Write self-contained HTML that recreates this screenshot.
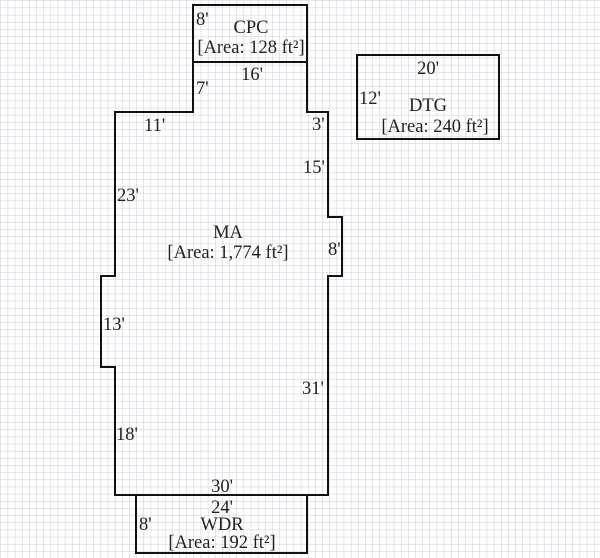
<!DOCTYPE html>
<html><head><meta charset="utf-8"><style>
html,body{margin:0;padding:0;background:#fff;}
svg{display:block;}
text{font-family:"Liberation Serif",serif;font-size:18.5px;fill:#222;}
</style></head><body>
<svg width="600" height="558" viewBox="0 0 600 558" xmlns="http://www.w3.org/2000/svg">
<defs>
<pattern id="g" width="7.15" height="7.15" patternUnits="userSpaceOnUse" x="1" y="1">
<path d="M7.15 0V7.15H0" fill="none" stroke="#c9ccd6" stroke-width="1"/>
</pattern>
</defs>
<rect width="600" height="558" fill="#fff"/>
<rect width="600" height="558" fill="url(#g)"/>
<g fill="none" stroke="#111" stroke-width="2">
<rect x="193" y="5" width="114" height="57"/>
<path d="M193 62V112H115V276H101V367H115V495H328V276H342V217H328V112H307V62"/>
<rect x="357" y="55" width="142" height="84"/>
<rect x="136" y="495" width="171" height="58"/>
</g>
<text x="196" y="25">8'</text>
<text x="251" y="33" text-anchor="middle">CPC</text>
<text x="251" y="53" text-anchor="middle">[Area: 128 ft²]</text>
<text x="252" y="80" text-anchor="middle">16'</text>
<text x="196" y="94">7'</text>
<text x="144" y="131">11'</text>
<text x="312" y="130">3'</text>
<text x="303" y="173">15'</text>
<text x="117" y="201">23'</text>
<text x="228" y="238" text-anchor="middle">MA</text>
<text x="228" y="258" text-anchor="middle">[Area: 1,774 ft²]</text>
<text x="328" y="255">8'</text>
<text x="103" y="330">13'</text>
<text x="302" y="394">31'</text>
<text x="116" y="440">18'</text>
<text x="222" y="492" text-anchor="middle">30'</text>
<text x="222" y="513" text-anchor="middle">24'</text>
<text x="139" y="530">8'</text>
<text x="222" y="530" text-anchor="middle">WDR</text>
<text x="222" y="548" text-anchor="middle">[Area: 192 ft²]</text>
<text x="428" y="74" text-anchor="middle">20'</text>
<text x="359" y="104">12'</text>
<text x="428" y="111" text-anchor="middle">DTG</text>
<text x="435" y="132" text-anchor="middle">[Area: 240 ft²]</text>
</svg>
</body></html>
